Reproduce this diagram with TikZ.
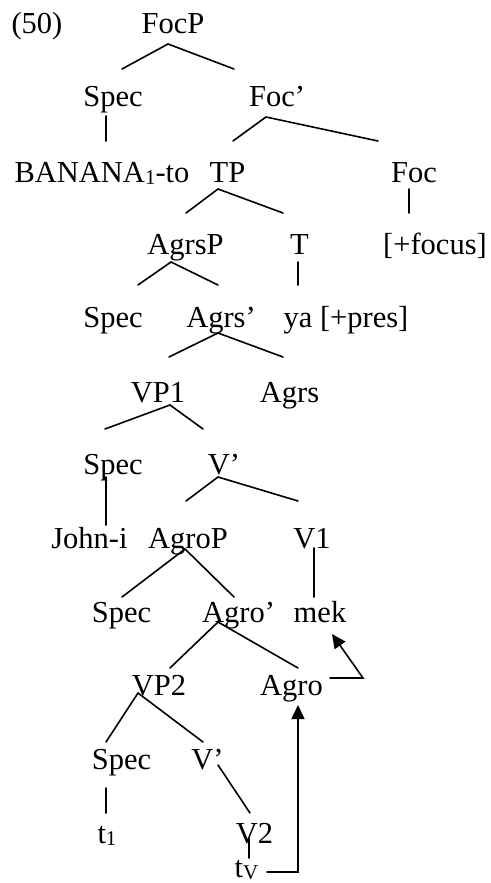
\documentclass[tikz,border=0pt]{standalone}
\usepackage{fontspec}
\setmainfont{Liberation Serif}
\usepackage{tikz}
\usetikzlibrary{arrows.meta}

\newcommand{\lowsub}[1]{\raisebox{-0.07em}{\fontsize{10.5}{10.5}\selectfont #1}}

\begin{document}
\begin{tikzpicture}[
            x=0.5pt, y=-0.5pt,
            line cap=round,
            word/.style={anchor=base, inner sep=0pt, font=\fontsize{15.25}{18}\selectfont},
            branch/.style={line width=0.8pt},
            movement/.style={line width=0.8pt, -{Triangle[length=7pt, width=6.5pt]}},
        ]
        \useasboundingbox (0,0) rectangle (491,883);

        \node[word] (ex) at (37,34) {(50)};
        \node[word] (focp) at (173,34) {FocP};
        \node[word] (spec-a) at (113,107) {Spec};
        \node[word] (focbar) at (277,107) {Foc’};
        \node[word] (banana) at (102,182) {BANANA\lowsub{1}-to};
        \node[word] (tp) at (227.5,182) {TP};
        \node[word] (foc) at (414,182) {Foc};
        \node[word] (agrsp) at (185.5,254) {AgrsP};
        \node[word] (t) at (299.5,254) {T};
        \node[word] (focus) at (435,254) {[+focus]};
        \node[word] (spec-b) at (113,327) {Spec};
        \node[word] (agrsbar) at (221,327) {Agrs’};
        \node[word] (ya) at (346,327) {ya [+pres]};
        \node[word] (vpone) at (158,402) {VP1};
        \node[word] (agrs) at (289.5,402) {Agrs};
        \node[word] (spec-c) at (113,474) {Spec};
        \node[word] (vbar-a) at (224,474) {V’};
        \node[word] (john) at (89.5,548) {John-i};
        \node[word] (agrop) at (188,548) {AgroP};
        \node[word] (vone) at (312,548) {V1};
        \node[word] (spec-d) at (121.5,622) {Spec};
        \node[word] (agrobar) at (238.5,622) {Agro’};
        \node[word] (mek) at (320,622) {mek};
        \node[word] (vptwo) at (159,695) {VP2};
        \node[word] (agro) at (291.5,695) {Agro};
        \node[word] (spec-e) at (121.5,769) {Spec};
        \node[word] (vbar-b) at (207.5,769) {V’};
        \node[word] (tone) at (107,843) {t\lowsub{1}};
        \node[word] (vtwo) at (254.5,843) {V2};
        \node[word] (tv) at (246.5,877) {t\lowsub{V}};

        \draw[branch] ([shift={(9,-38)}]spec-a.base) -- ([shift={(-5,10)}]focp.base) -- ([shift={(-43,-38)}]focbar.base);
        \draw[branch] ([shift={(-7,9)}]spec-a.base) -- ([shift={(4,-41)}]banana.base);
        \draw[branch] ([shift={(5.5,-41)}]tp.base) -- ([shift={(-11,10)}]focbar.base) -- ([shift={(-36,-41)}]foc.base);
        \draw[branch] ([shift={(0.5,-41)}]agrsp.base) -- ([shift={(-9.5,7)}]tp.base) -- ([shift={(-16.5,-41)}]t.base);
        \draw[branch] ([shift={(-5,7)}]foc.base) -- ([shift={(-26,-41)}]focus.base);
        \draw[branch] ([shift={(25,-42)}]spec-b.base) -- ([shift={(-14.5,8)}]agrsp.base) -- ([shift={(-3,-42)}]agrsbar.base);
        \draw[branch] ([shift={(-1.5,8)}]t.base) -- ([shift={(-48,-42)}]ya.base);
        \draw[branch] ([shift={(11,-45)}]vpone.base) -- ([shift={(-3,6)}]agrsbar.base) -- ([shift={(-6.5,-45)}]agrs.base);
        \draw[branch] ([shift={(-8,-45)}]spec-c.base) -- ([shift={(12,3)}]vpone.base) -- ([shift={(-21,-45)}]vbar-a.base);
        \draw[branch] ([shift={(-7,3)}]spec-c.base) -- ([shift={(16.5,-23)}]john.base);
        \draw[branch] ([shift={(-2,-47)}]agrop.base) -- ([shift={(-6,3)}]vbar-a.base) -- ([shift={(-14,-47)}]vone.base);
        \draw[branch] ([shift={(0.5,-25)}]spec-d.base) -- ([shift={(-3,1)}]agrop.base) -- ([shift={(-4.5,-25)}]agrobar.base);
        \draw[branch] ([shift={(2,0)}]vone.base) -- ([shift={(-6,-25)}]mek.base);
        \draw[branch] ([shift={(11,-27)}]vptwo.base) -- ([shift={(-20.5,0)}]agrobar.base) -- ([shift={(6.5,-27)}]agro.base);
        \draw[branch] ([shift={(-15.5,-27)}]spec-e.base) -- ([shift={(-21,-2)}]vptwo.base) -- ([shift={(-4.5,-27)}]vbar-b.base);
        \draw[branch] ([shift={(-15.5,19)}]spec-e.base) -- ([shift={(-1,-30)}]tone.base);
        \draw[branch] ([shift={(10.5,-4)}]vbar-b.base) -- ([shift={(-4.5,-30)}]vtwo.base);
        \draw[branch] ([shift={(-5.5,-5)}]vtwo.base) -- ([shift={(2.5,-19)}]tv.base);

        \draw[movement] ([shift={(20.5,-5)}]tv.base) -| ([shift={(6.5,10)}]agro.base);
        \draw[movement] ([shift={(38.5,-17)}]agro.base) -- ++(33,0) -- ([shift={(12,12)}]mek.base);
        \end{tikzpicture}
\end{document}
